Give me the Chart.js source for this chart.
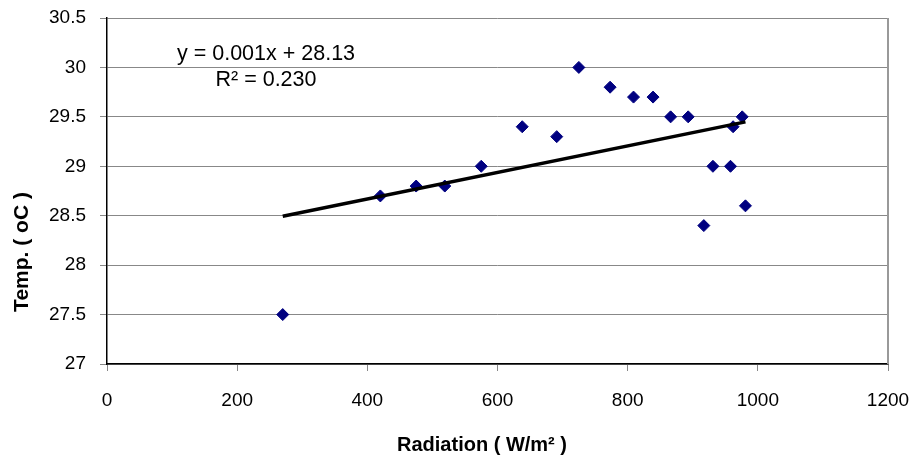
<!DOCTYPE html>
<html lang="en">

<head>
    <meta charset="UTF-8">
    <title>Temp vs Radiation</title>
    <style>
        body {
            margin: 0;
            padding: 0;
            background-color: #fff;
        }

        canvas {
            display: block;
        }
    </style>
    <script src="https://cdn.jsdelivr.net/npm/chart.js"></script>
</head>

<body>
    <canvas id="tempChart" width="915" height="460"></canvas>

    <script>
        // Data
        const radiation = [270, 420, 475, 519, 575, 638, 691, 725, 773, 809, 839, 866, 893, 917, 931, 958, 962, 976, 981];
        const temperature = [27.5, 28.7, 28.8, 28.8, 29.0, 29.4, 29.3, 30.0, 29.8, 29.7, 29.7, 29.5, 29.5, 28.4, 29.0, 29.0, 29.4, 29.5, 28.6];
        const xTicks = [0, 200, 400, 600, 800, 1000, 1200];
        const yTicks = [27, 27.5, 28, 28.5, 29, 29.5, 30, 30.5];
        const equationLines = ['y = 0.001x + 28.13', 'R\u00b2 = 0.230'];

        const FONT = "'Liberation Sans', Arial, sans-serif";

        // least squares trend line
        const n = radiation.length;
        const mx = radiation.reduce((a, b) => a + b, 0) / n;
        const my = temperature.reduce((a, b) => a + b, 0) / n;
        let sxy = 0, sxx = 0;
        for (let i = 0; i < n; i++) {
            sxy += (radiation[i] - mx) * (temperature[i] - my);
            sxx += (radiation[i] - mx) * (radiation[i] - mx);
        }
        const slope = sxy / sxx;
        const intercept = my - slope * mx;
        const xMin = Math.min(...radiation);
        const xMax = Math.max(...radiation);
        const trend = [
            { x: xMin, y: intercept + slope * xMin },
            { x: xMax, y: intercept + slope * xMax }
        ];

        const points = radiation.map((x, i) => ({ x: x, y: temperature[i] }));

        // extra drawing: right border, axis titles, equation
        const decorations = {
            id: 'decorations',
            beforeDatasetsDraw(chart) {
                const { ctx, chartArea } = chart;
                ctx.save();
                ctx.strokeStyle = '#999';
                ctx.lineWidth = 2;
                ctx.beginPath();
                ctx.moveTo(chartArea.right, chartArea.top);
                ctx.lineTo(chartArea.right, chartArea.bottom);
                ctx.stroke();
                ctx.restore();
            },
            afterDraw(chart) {
                const { ctx, chartArea } = chart;
                ctx.save();
                ctx.fillStyle = '#000';
                ctx.textAlign = 'center';
                ctx.textBaseline = 'middle';

                ctx.font = 'bold 20px ' + FONT;
                ctx.fillText('Radiation ( W/m\u00b2 )', 482, 445);

                ctx.font = 'bold 21px ' + FONT;
                ctx.save();
                ctx.translate(22, 252);
                ctx.rotate(-Math.PI / 2);
                ctx.fillText('Temp. ( oC )', 0, 0);
                ctx.restore();

                ctx.font = '21.5px ' + FONT;
                ctx.fillText(equationLines[0], chartArea.left + 159, chartArea.top + 36);
                ctx.fillText(equationLines[1], chartArea.left + 159, chartArea.top + 62);
                ctx.restore();
            }
        };

        const ctx = document.getElementById('tempChart').getContext('2d');
        const chart = new Chart(ctx, {
            type: 'scatter',
            data: {
                datasets: [{
                    label: 'Trend',
                    type: 'line',
                    data: trend,
                    borderColor: '#000',
                    borderWidth: 3.5,
                    pointRadius: 0,
                    fill: false,
                    order: 0
                }, {
                    label: 'Temp',
                    data: points,
                    pointStyle: 'rectRot',
                    pointRadius: 6,
                    pointBorderWidth: 1,
                    backgroundColor: '#000080',
                    borderColor: '#000080',
                    order: 1
                }]
            },
            options: {
                responsive: false,
                animation: false,
                devicePixelRatio: 1,
                layout: { padding: { left: 0, top: 18, right: 27, bottom: 0 } },
                plugins: {
                    legend: { display: false },
                    tooltip: { enabled: false }
                },
                scales: {
                    x: {
                        type: 'linear',
                        min: 0,
                        max: 1200,
                        afterFit(scale) {
                            scale.height = 96;
                            scale.paddingLeft = 0;
                            scale.paddingRight = 0;
                        },
                        afterBuildTicks(scale) { scale.ticks = xTicks.map(v => ({ value: v })); },
                        ticks: {
                            color: '#000',
                            padding: 18,
                            maxRotation: 0,
                            font: { family: FONT, size: 19 },
                            callback: v => String(v)
                        },
                        grid: {
                            drawOnChartArea: false,
                            drawTicks: true,
                            tickLength: 7,
                            color: '#888'
                        },
                        border: { display: true, color: '#000', width: 1.5 }
                    },
                    y: {
                        type: 'linear',
                        min: 27,
                        max: 30.5,
                        afterFit(scale) {
                            scale.width = 107;
                            scale.paddingTop = 0;
                            scale.paddingBottom = 0;
                        },
                        afterBuildTicks(scale) { scale.ticks = yTicks.map(v => ({ value: v })); },
                        ticks: {
                            color: '#000',
                            padding: 14,
                            font: { family: FONT, size: 19 },
                            callback: v => String(v)
                        },
                        grid: {
                            color: '#888',
                            tickLength: 7
                        },
                        border: { display: true, color: '#000', width: 1.5 }
                    }
                }
            },
            plugins: [decorations]
        });
    </script>
</body>

</html>
